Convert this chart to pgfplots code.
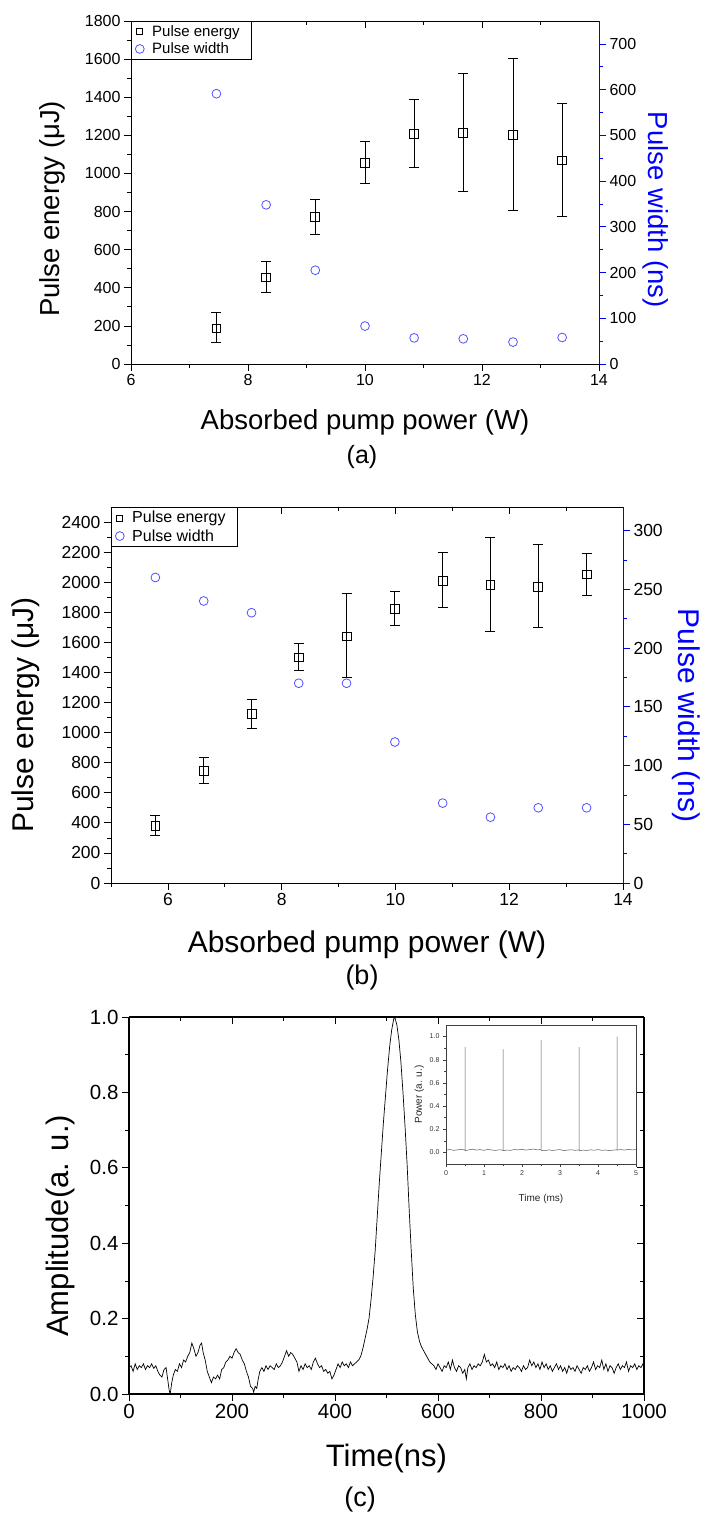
\documentclass[border=0pt]{standalone}
\usepackage{fontspec}
\setmainfont{Liberation Sans}
\usepackage{pgfplots}
\usepackage{pgfplotstable}
\pgfplotsset{compat=1.18}
\definecolor{pw}{RGB}{80,80,255}

% panel (a): pump power, energy, error up, error down, pulse width
\pgfplotstableread{
x y ep em w
7.46 187 82 73 591
8.31 454 84 77 348
9.15 772 93 94 205
10.00 1054 112 105 83
10.84 1208 181 177 57
11.68 1213 314 306 55
12.53 1202 401 395 48
13.37 1068 300 296 58
}\dataA

% panel (b)
\pgfplotstableread{
x y ep em w
5.78 381 67 66 260
6.63 747 91 87 240
7.47 1123 96 95 230
8.30 1500 91 84 170
9.14 1640 283 273 170
9.99 1821 118 106 120
10.83 2010 190 180 68
11.67 1981 317 310 56
12.51 1968 281 268 64
13.36 2052 142 138 64
}\dataB

\pgfplotsset{
  fig/.style={scale only axis, /pgf/number format/assume math mode=true,
    /pgf/number format/1000 sep={},
    major tick length=7pt, minor tick length=4pt,
    every tick/.style={line width=0.7pt},
    axis line style={line width=0.8pt}},
  emarks/.style={black, only marks, mark=square, mark size=4.4pt,
    mark options={fill=white, line width=0.8pt},
    error bars/.cd, y dir=both, y explicit,
    error bar style={line width=0.8pt},
    error mark options={rotate=90, mark size=5pt, line width=0.8pt}},
  wmarks/.style={pw, only marks, mark=o, mark size=4.4pt, mark options={line width=0.8pt}},
  leg/.style={legend style={at={(axis description cs:0,1)}, anchor=north west, draw=black,
    line width=0.8pt, font=\fontsize{#1}{#1}\selectfont, inner xsep=4pt, inner ysep=2pt,
    row sep=1pt, nodes={inner xsep=8pt}}, legend cell align=left},
}

\begin{document}
\begin{tikzpicture}
\path[use as bounding box] (0,0) rectangle (706pt,1518pt);

%%%%%%%%%% (a)
\begin{axis}[fig, at={(131pt,1154pt)}, anchor=south west, width=468pt, height=343pt,
  xmin=6, xmax=14, ymin=0, ymax=1800,
  axis x line*=bottom, axis y line*=left, tick align=outside,
  xtick={6,8,...,14}, ytick={0,200,...,1800}, minor x tick num=1, minor y tick num=1,
  tick label style={font=\fontsize{16}{16}\selectfont},
  xlabel={Absorbed pump power (W)}, ylabel={Pulse energy (μJ)},
  label style={font=\fontsize{27.5}{27.5}\selectfont},
  xlabel style={at={(axis description cs:0.5,-0.169)}, anchor=center},
  ylabel style={at={(axis description cs:-0.169,0.452)}, anchor=center}]
\addplot[emarks] table[x=x, y=y, y error plus=ep, y error minus=em] {\dataA};
\end{axis}
\begin{axis}[fig, at={(131pt,1154pt)}, anchor=south west, width=468pt, height=343pt,
  xmin=6, xmax=14, ymin=0, ymax=1,
  axis x line*=top, axis y line=none, tick align=inside,
  xtick={6,8,...,14}, minor x tick num=1, xticklabels={}]
\end{axis}
\begin{axis}[fig, at={(131pt,1154pt)}, anchor=south west, width=468pt, height=343pt,
  xmin=6, xmax=14, ymin=0, ymax=750,
  axis x line=none, axis y line*=right, tick align=outside,
  ytick={0,100,...,700}, minor y tick num=1,
  axis line style={blue, line width=0.8pt}, every tick/.style={blue, line width=0.7pt},
  tick label style={font=\fontsize{16}{16}\selectfont, black},
  ylabel={Pulse width (ns)},
  ylabel style={font=\fontsize{27.5}{27.5}\selectfont, blue, at={(axis description cs:1.12,0.45)}, anchor=center, rotate=180},
  leg=15]
\addlegendimage{black, only marks, mark=square, mark size=3pt, mark options={line width=0.7pt}}
\addlegendentry{Pulse energy}
\addplot[wmarks] table[x=x, y=w] {\dataA};
\addlegendentry{Pulse width}
\end{axis}
\node[font=\fontsize{25}{25}\selectfont] at (362pt,1061pt) {(a)};

%%%%%%%%%% (b)
\begin{axis}[fig, at={(111pt,635pt)}, anchor=south west, width=512pt, height=376pt,
  xmin=5, xmax=14, ymin=0, ymax=2500,
  axis x line*=bottom, axis y line*=left, tick align=outside,
  xtick={6,8,...,14}, ytick={0,200,...,2400}, minor x tick num=1, minor y tick num=1,
  extra x ticks={5}, extra x tick labels={}, extra x tick style={major tick length=4pt},
  tick label style={font=\fontsize{17.5}{17.5}\selectfont},
  xlabel={Absorbed pump power (W)}, ylabel={Pulse energy (μJ)},
  label style={font=\fontsize{30}{30}\selectfont},
  xlabel style={at={(axis description cs:0.5,-0.165)}, anchor=center},
  ylabel style={at={(axis description cs:-0.166,0.447)}, anchor=center}]
\addplot[emarks] table[x=x, y=y, y error plus=ep, y error minus=em] {\dataB};
\end{axis}
\begin{axis}[fig, at={(111pt,635pt)}, anchor=south west, width=512pt, height=376pt,
  xmin=5, xmax=14, ymin=0, ymax=1,
  axis x line*=top, axis y line=none, tick align=inside,
  xtick={6,8,...,14}, minor x tick num=1, xticklabels={}]
\end{axis}
\begin{axis}[fig, at={(111pt,635pt)}, anchor=south west, width=512pt, height=376pt,
  xmin=5, xmax=14, ymin=0, ymax=320,
  axis x line=none, axis y line*=right, tick align=outside,
  ytick={0,50,...,300}, minor y tick num=1,
  axis line style={blue, line width=0.8pt}, every tick/.style={blue, line width=0.7pt},
  tick label style={font=\fontsize{17.5}{17.5}\selectfont, black},
  ylabel={Pulse width (ns)},
  ylabel style={font=\fontsize{30}{30}\selectfont, blue, at={(axis description cs:1.123,0.445)}, anchor=center, rotate=180},
  leg=16]
\addlegendimage{black, only marks, mark=square, mark size=3pt, mark options={line width=0.7pt}}
\addlegendentry{Pulse energy}
\addplot[wmarks] table[x=x, y=w] {\dataB};
\addlegendentry{Pulse width}
\end{axis}
\node[font=\fontsize{27}{27}\selectfont] at (362pt,540pt) {(b)};

%%%%%%%%%% (c)
\begin{axis}[fig, at={(129pt,124pt)}, anchor=south west, width=515pt, height=377pt,
  xmin=0, xmax=1000, ymin=0, ymax=1,
  axis x line*=bottom, axis y line*=left, tick align=outside,
  axis line style={line width=1.1pt},
  xtick={0,200,...,1000}, ytick={0,0.2,...,1.0}, minor x tick num=1, minor y tick num=1,
  yticklabel style={/pgf/number format/fixed, /pgf/number format/zerofill, /pgf/number format/precision=1},
  tick label style={font=\fontsize{20.5}{20.5}\selectfont},
  xlabel={Time(ns)}, ylabel={Amplitude(a. u.)},
  label style={font=\fontsize{31}{31}\selectfont},
  xlabel style={at={(axis description cs:0.5,-0.17)}, anchor=center},
  ylabel style={at={(axis description cs:-0.134,0.446)}, anchor=center}]
\addplot[black, line width=0.7pt] coordinates {
(0,0.07)(4,0.075)(8,0.06)(12,0.08)(16,0.065)(20,0.075)(24,0.07)(28,0.08)(32,0.065)(36,0.075)
(40,0.07)(44,0.08)(48,0.068)(52,0.075)(56,0.06)(60,0.05)(64,0.045)(68,0.065)(72,0.07)(75,0.04)
(78,0.01)(80,0.0)(83,0.03)(86,0.05)(90,0.065)(94,0.06)(98,0.08)(102,0.07)(106,0.09)(110,0.085)
(114,0.1)(118,0.11)(122,0.135)(126,0.12)(130,0.1)(134,0.11)(138,0.13)(141,0.135)(144,0.11)(148,0.09)
(152,0.06)(156,0.045)(160,0.03)(164,0.045)(168,0.04)(172,0.05)(176,0.04)(180,0.065)(184,0.07)(188,0.085)
(192,0.09)(196,0.1)(200,0.095)(204,0.11)(208,0.12)(212,0.11)(216,0.105)(220,0.09)(224,0.08)(228,0.06)
(232,0.045)(236,0.02)(240,0.015)(242,0.005)(245,0.02)(248,0.015)(251,0.04)(254,0.06)(258,0.07)(262,0.06)
(266,0.075)(270,0.065)(274,0.075)(278,0.07)(282,0.065)(286,0.08)(290,0.07)(294,0.075)(298,0.085)(302,0.1)
(306,0.115)(310,0.1)(314,0.11)(318,0.105)(322,0.095)(326,0.085)(330,0.06)(334,0.075)(338,0.065)(342,0.08)
(346,0.07)(350,0.075)(354,0.065)(358,0.085)(362,0.095)(366,0.08)(370,0.07)(374,0.075)(378,0.06)(382,0.065)
(386,0.055)(390,0.06)(394,0.04)(398,0.05)(402,0.065)(406,0.08)(410,0.07)(414,0.085)(418,0.075)(422,0.08)
(426,0.07)(430,0.085)(434,0.075)(438,0.08)(442,0.085)(446,0.09)(450,0.1)(454,0.12)(458,0.145)(462,0.17)
(466,0.2)(470,0.25)(474,0.31)(478,0.38)(482,0.47)(486,0.56)(490,0.64)(494,0.72)(498,0.79)(502,0.86)
(506,0.92)(510,0.965)(514,0.995)(516,1.0)(520,0.98)(524,0.94)(528,0.88)(532,0.8)(536,0.71)(540,0.61)
(544,0.49)(548,0.38)(552,0.28)(556,0.21)(560,0.165)(564,0.14)(568,0.125)(572,0.115)(576,0.105)(580,0.095)
(584,0.085)(588,0.08)(592,0.075)(596,0.065)(600,0.08)(604,0.07)(608,0.06)(612,0.075)(616,0.07)(620,0.085)
(624,0.065)(628,0.09)(632,0.07)(636,0.06)(640,0.075)(644,0.07)(648,0.055)(652,0.065)(655,0.04)(658,0.07)
(662,0.08)(666,0.065)(670,0.075)(674,0.07)(678,0.08)(682,0.075)(686,0.085)(690,0.105)(694,0.085)(698,0.09)
(702,0.075)(706,0.08)(710,0.07)(714,0.085)(718,0.065)(722,0.075)(726,0.07)(730,0.08)(734,0.065)(738,0.075)
(742,0.06)(746,0.07)(750,0.065)(754,0.075)(758,0.07)(762,0.06)(766,0.075)(770,0.065)(774,0.07)(778,0.09)
(782,0.075)(786,0.085)(790,0.07)(794,0.08)(798,0.065)(802,0.085)(806,0.07)(810,0.08)(814,0.065)(818,0.075)
(822,0.06)(826,0.07)(830,0.08)(834,0.065)(838,0.075)(842,0.06)(846,0.07)(850,0.055)(854,0.075)(858,0.065)
(862,0.07)(866,0.06)(870,0.075)(874,0.065)(878,0.055)(882,0.07)(886,0.065)(890,0.075)(894,0.06)(898,0.07)
(902,0.085)(906,0.065)(910,0.075)(914,0.07)(918,0.09)(922,0.065)(926,0.08)(930,0.06)(934,0.075)(938,0.07)
(942,0.055)(946,0.07)(950,0.08)(954,0.065)(958,0.075)(962,0.07)(966,0.085)(970,0.06)(974,0.075)(978,0.07)
(982,0.08)(986,0.065)(990,0.075)(994,0.07)(998,0.08)(1000,0.07)
};
\end{axis}
\begin{axis}[fig, at={(129pt,124pt)}, anchor=south west, width=515pt, height=377pt,
  xmin=0, xmax=1000, ymin=0, ymax=1,
  axis x line*=top, axis y line*=right, tick align=inside,
  axis line style={line width=1.1pt},
  xtick={0,200,...,1000}, ytick={0,0.2,...,1.0}, minor x tick num=1, minor y tick num=1,
  xticklabels={}, yticklabels={}]
\end{axis}

% inset
\begin{axis}[fig, at={(446pt,354pt)}, anchor=south west, width=190pt, height=139pt,
  xmin=0, xmax=5, ymin=-0.1, ymax=1.1,
  major tick length=3pt, minor tick length=2pt,
  axis line style={black!75, line width=0.6pt}, every tick/.style={black!75, line width=0.4pt},
  tick align=outside, xtick pos=left, ytick pos=left,
  xtick={0,1,...,5}, ytick={0,0.2,...,1.0}, minor x tick num=1, minor y tick num=1,
  yticklabel style={/pgf/number format/fixed, /pgf/number format/zerofill, /pgf/number format/precision=1},
  tick label style={font=\fontsize{7}{7}\selectfont, black!80},
  xlabel={Time (ms)}, ylabel={Power (a. u.)},
  label style={font=\fontsize{10}{10}\selectfont, black!85},
  xlabel style={at={(axis description cs:0.5,-0.25)}, anchor=center},
  ylabel style={at={(axis description cs:-0.14,0.5)}, anchor=center}]
\addplot[black!65, line width=0.5pt, line join=round] coordinates {
(0,0.02)(0.1,0.025)(0.2,0.018)(0.3,0.022)(0.4,0.027)(0.5,0.02)(0.5,0.91)(0.5,0.015)
(0.6,0.022)(0.7,0.028)(0.8,0.02)(0.9,0.024)(1.0,0.018)(1.1,0.026)(1.2,0.021)(1.3,0.017)(1.4,0.023)
(1.5,0.019)(1.5,0.89)(1.5,0.015)(1.6,0.02)(1.7,0.018)(1.8,0.025)(1.9,0.022)(2.0,0.027)(2.1,0.02)
(2.2,0.024)(2.3,0.029)(2.4,0.022)(2.5,0.025)(2.5,0.97)(2.5,0.018)(2.6,0.015)(2.7,0.022)(2.8,0.017)
(2.9,0.021)(3.0,0.024)(3.1,0.016)(3.2,0.02)(3.3,0.023)(3.4,0.018)(3.5,0.022)(3.5,0.91)(3.5,0.014)
(3.6,0.02)(3.7,0.017)(3.8,0.022)(3.9,0.019)(4.0,0.024)(4.1,0.018)(4.2,0.021)(4.3,0.016)(4.4,0.02)
(4.5,0.022)(4.5,1.0)(4.5,0.02)(4.6,0.025)(4.7,0.02)(4.8,0.027)(4.9,0.022)(5.0,0.024)
};
\end{axis}
\node[font=\fontsize{27}{27}\selectfont] at (360pt,18pt) {(c)};
\end{tikzpicture}
\end{document}
